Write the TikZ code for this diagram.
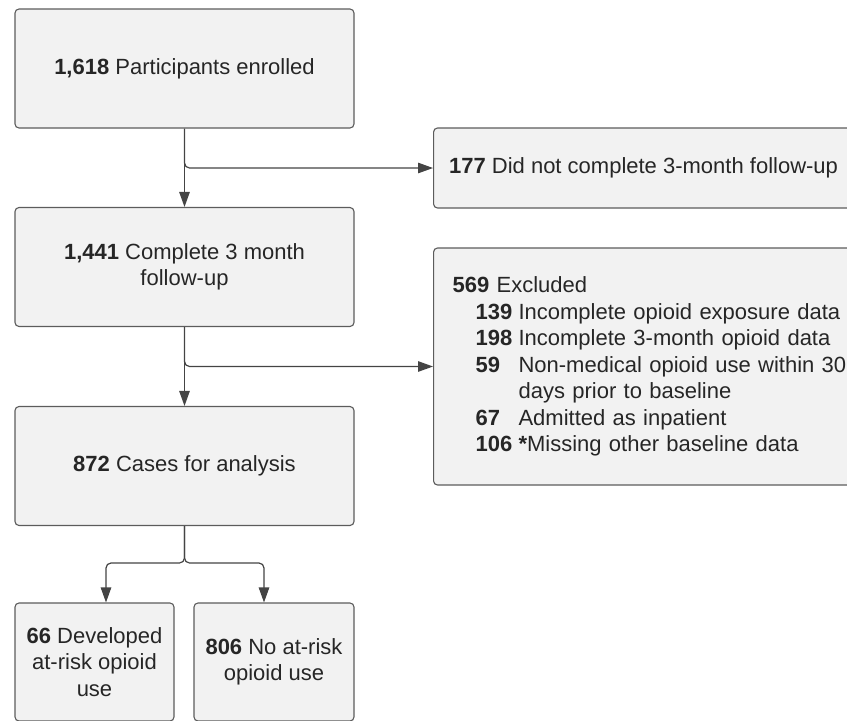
\documentclass[tikz,border=0pt]{standalone}
\usepackage{fontspec}
\setmainfont{Liberation Sans}
\usepackage{tikz}
\usetikzlibrary{arrows.meta}

\definecolor{boxfill}{HTML}{F2F2F2}
\definecolor{boxline}{HTML}{5C5C5C}
\definecolor{linkline}{HTML}{444444}

\tikzset{
  flowbox/.style={draw=boxline, fill=boxfill, line width=1.1pt, rounded corners=4pt,
    align=center, text=black!85, inner sep=0pt, font=\fontsize{22}{26.5}\selectfont},
  flowlink/.style={draw=linkline, line width=1.2pt, rounded corners=5pt,
    -{Triangle[length=15pt,width=10.5pt]}}
}

\begin{document}
\begin{tikzpicture}[x=1pt, y=-1pt]
    \useasboundingbox (0,0) rectangle (847,721);

    %% main column
    \node [flowbox, minimum width=339pt, minimum height=119pt] (enrolled) at (184.5,68.5)
      {\textbf{1,618} Participants enrolled};
    \node [flowbox, minimum width=339pt, minimum height=119pt] (followup) at (184.5,267)
      {\textbf{1,441} Complete 3 month\\ follow-up};
    \node [flowbox, minimum width=339pt, minimum height=119pt] (cases) at (184.5,466)
      {\textbf{872} Cases for analysis};

    %% exclusions on the right
    \node [flowbox, anchor=west, minimum width=420pt, minimum height=80pt] (lost) at (433,168)
      {\textbf{177} Did not complete 3-month follow-up};
    \node [flowbox, anchor=west, align=left, text width=395pt, inner xsep=19pt,
      minimum height=237pt] (excluded) at (433,366.5)
      {\textbf{569} Excluded\\
       \hspace*{23pt}\makebox[43pt][l]{\textbf{139}}Incomplete opioid exposure data\\
       \hspace*{23pt}\makebox[43pt][l]{\textbf{198}}Incomplete 3-month opioid data\\
       \hspace*{23pt}\makebox[43pt][l]{\textbf{59}}Non-medical opioid use within 30\\
       \hspace*{66pt}days prior to baseline\\
       \hspace*{23pt}\makebox[43pt][l]{\textbf{67}}Admitted as inpatient\\
       \hspace*{23pt}\makebox[43pt][l]{\textbf{106}}\textbf{*}Missing other baseline data};

    %% outcome boxes
    \node [flowbox, minimum width=159pt, minimum height=118pt] (atrisk) at (94.5,662)
      {\textbf{66} Developed\\ at-risk opioid\\ use};
    \node [flowbox, minimum width=160pt, minimum height=118pt] (norisk) at (274,662)
      {\textbf{806} No at-risk\\ opioid use};

    %% connectors
    \draw [flowlink] (enrolled.south) -- (followup.north);
    \draw [flowlink] (enrolled.south) |- (lost.west);
    \draw [flowlink] (followup.south) -- (cases.north);
    \draw [flowlink] (followup.south) |- (excluded.west);
    \coordinate (split) at (184.5,563);
    \draw [flowlink] (cases.south) -- (split) -| ([xshift=11.5pt]atrisk.north);
    \draw [flowlink] (cases.south) -- (split) -| ([xshift=-10pt]norisk.north);
\end{tikzpicture}
\end{document}
